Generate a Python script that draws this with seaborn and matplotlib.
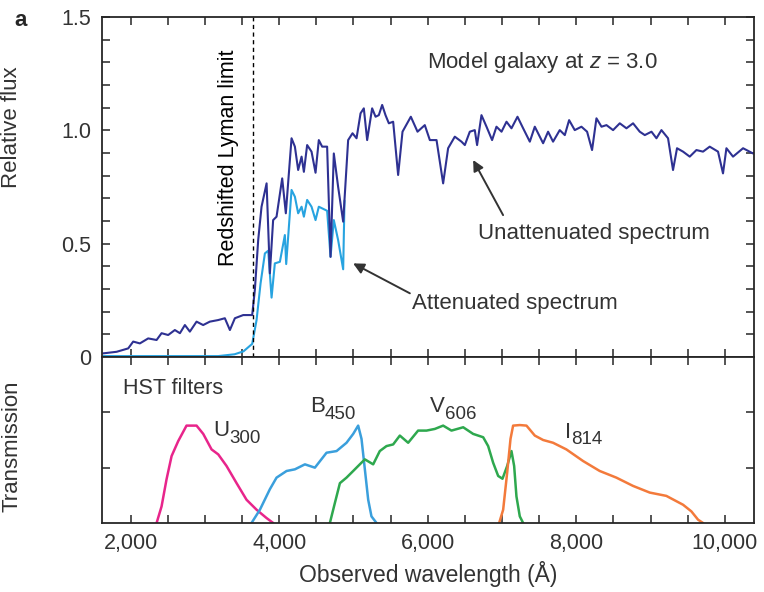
import numpy as np
import pandas as pd
import matplotlib
matplotlib.use("Agg")
import matplotlib.pyplot as plt
from matplotlib.ticker import MultipleLocator, FuncFormatter
import seaborn as sns

# ----- data -----
# unattenuated model spectrum (observed wavelength in Angstrom, relative flux)
wave_full = [1631, 1812, 1968, 2035, 2125, 2237, 2350, 2417, 2506, 2596, 2664, 2731, 2798,
             2888, 2977, 3067, 3179, 3269, 3337, 3404, 3516, 3637, 3673, 3718, 3763, 3831,
             3875, 3919, 3965, 4041, 4090, 4167, 4212, 4256, 4302, 4333, 4377, 4436, 4490,
             4534, 4579, 4646, 4692, 4736, 4794, 4862, 4929, 4988, 5042, 5096, 5140, 5185,
             5252, 5298, 5342, 5387, 5432, 5477, 5535, 5602, 5661, 5773, 5863, 5961, 6029,
             6119, 6208, 6275, 6365, 6455, 6500, 6567, 6634, 6665, 6724, 6792, 6867, 6926,
             6994, 7061, 7128, 7209, 7285, 7375, 7442, 7554, 7621, 7688, 7778, 7846, 7904,
             7980, 8070, 8146, 8213, 8272, 8340, 8407, 8496, 8586, 8676, 8765, 8855, 8923,
             9013, 9080, 9147, 9236, 9303, 9357, 9438, 9528, 9618, 9707, 9797, 9909, 9976,
             10022, 10111, 10246, 10380, 10400]
flux_full = [0.016, 0.023, 0.038, 0.068, 0.060, 0.082, 0.075, 0.105, 0.097, 0.119, 0.105, 0.141,
             0.112, 0.156, 0.141, 0.156, 0.163, 0.171, 0.119, 0.171, 0.185, 0.185, 0.296, 0.516,
             0.663, 0.766, 0.369, 0.604, 0.619, 0.788, 0.634, 0.965, 0.928, 0.825, 0.884, 0.817,
             0.935, 0.906, 0.813, 0.957, 0.928, 0.928, 0.442, 0.898, 0.751, 0.597, 0.957, 0.987,
             0.965, 1.075, 1.097, 0.957, 1.097, 1.060, 1.067, 1.112, 1.067, 1.031, 1.038, 0.803,
             0.994, 1.060, 0.994, 1.023, 0.957, 0.957, 0.766, 0.921, 0.972, 0.950, 0.935, 0.994,
             1.001, 0.935, 1.067, 1.016, 0.957, 1.016, 0.994, 1.038, 1.009, 1.060, 1.009, 0.950,
             1.016, 0.943, 0.994, 0.950, 1.001, 0.979, 1.045, 1.001, 1.016, 0.994, 0.913, 1.053,
             1.016, 1.023, 1.001, 1.031, 1.009, 1.031, 0.994, 0.979, 0.994, 0.965, 1.001, 0.965,
             0.825, 0.921, 0.906, 0.884, 0.913, 0.906, 0.928, 0.906, 0.810, 0.921, 0.884, 0.921,
             0.898, 0.900]

# attenuated spectrum (only differs below Ly-alpha, 4864 A)
wave_att = [1631, 3180, 3400, 3520, 3637, 3696, 3750, 3808, 3853, 3898, 3942, 4010, 4077,
            4095, 4167, 4212, 4256, 4302, 4333, 4377, 4436, 4490, 4534, 4646, 4692, 4736,
            4794, 4862, 4880]
flux_att = [0.004, 0.004, 0.012, 0.025, 0.058, 0.163, 0.325, 0.457, 0.469, 0.262, 0.413, 0.420,
            0.538, 0.41, 0.737, 0.707, 0.634, 0.663, 0.619, 0.693, 0.663, 0.604, 0.663, 0.645,
            0.442, 0.604, 0.516, 0.387, 0.69]

# HST filter transmission curves (arbitrary units)
u_wave = [2350, 2417, 2484, 2552, 2641, 2753, 2888, 2978, 3090, 3180, 3292, 3427, 3561, 3696, 3830, 3920]
u_trans = [0.0, 0.30, 0.79, 1.21, 1.48, 1.76, 1.76, 1.61, 1.33, 1.24, 1.03, 0.72, 0.42, 0.24, 0.09, 0.0]

b_wave = [3628, 3741, 3875, 3965, 4100, 4212, 4347, 4481, 4638, 4773, 4907, 4997, 5064, 5109, 5154, 5199, 5243, 5311]
b_trans = [0.0, 0.24, 0.61, 0.82, 0.94, 0.97, 1.06, 1.00, 1.27, 1.30, 1.45, 1.61, 1.76, 1.52, 0.97, 0.42, 0.12, 0.0]

v_wave = [4683, 4750, 4818, 4907, 4997, 5086, 5154, 5266, 5355, 5445, 5535, 5625, 5737, 5871, 5984,
          6096, 6208, 6320, 6478, 6612, 6747, 6814, 6881, 6949, 7007, 7070, 7128, 7164, 7195, 7240, 7285]
v_trans = [0.0, 0.36, 0.72, 0.82, 0.94, 1.06, 1.15, 1.06, 1.30, 1.39, 1.42, 1.58, 1.45, 1.67, 1.67,
           1.70, 1.76, 1.67, 1.73, 1.61, 1.55, 1.39, 1.09, 0.85, 0.80, 1.03, 1.30, 1.03, 0.48, 0.12, 0.0]

i_wave = [6962, 7016, 7070, 7115, 7150, 7240, 7330, 7442, 7554, 7688, 7867, 8092, 8316, 8540,
          8765, 8989, 9213, 9438, 9550, 9640, 9707]
i_trans = [0.0, 0.24, 0.91, 1.52, 1.76, 1.77, 1.76, 1.58, 1.50, 1.45, 1.33, 1.12, 0.94, 0.82,
           0.67, 0.55, 0.49, 0.33, 0.21, 0.06, 0.0]

filter_names = ["U", "B", "V", "I"]
filter_subs = ["300", "450", "606", "814"]
filter_colors = ["#e8258b", "#3a9fdc", "#2ea84e", "#f37a3b"]

lyman_limit = 912 * (1 + 3.0)

# ----- style -----
sns.set_style("ticks")
plt.rcParams["font.family"] = ["Liberation Sans", "DejaVu Sans"]
plt.rcParams["mathtext.fontset"] = "custom"
plt.rcParams["mathtext.rm"] = "Liberation Sans"
plt.rcParams["mathtext.it"] = "Liberation Sans:italic"
plt.rcParams["axes.linewidth"] = 1.3
plt.rcParams["lines.solid_joinstyle"] = "round"
txt = "#333333"

fig = plt.figure(figsize=(7.64, 5.92), dpi=100)
left, right = 102 / 764, 754.5 / 764
ax1 = fig.add_axes([left, 1 - 357 / 592, right - left, (357 - 17) / 592])
ax2 = fig.add_axes([left, 1 - 523 / 592, right - left, (523 - 357) / 592], sharex=ax1)

# ----- top panel: spectra -----
df_full = pd.DataFrame({"wave": wave_full, "flux": flux_full})
df_att = pd.DataFrame({"wave": wave_att, "flux": flux_att})
sns.lineplot(data=df_att, x="wave", y="flux", ax=ax1, color="#27a3e0", lw=1.5, estimator=None)
sns.lineplot(data=df_full, x="wave", y="flux", ax=ax1, color="#2e3192", lw=1.5, estimator=None)
ax1.axvline(lyman_limit, color="black", ls=(0, (3, 2.5)), lw=1.0)

ax1.set_xlim(1615, 10400)
ax1.set_ylim(0, 1.5)
ax1.set_yticks([0, 0.5, 1.0, 1.5])
ax1.set_yticklabels(["0", "0.5", "1.0", "1.5"])
ax1.yaxis.set_minor_locator(MultipleLocator(0.1))
ax1.xaxis.set_major_locator(MultipleLocator(2000))
ax1.xaxis.set_minor_locator(MultipleLocator(500))
ax1.tick_params(which="both", direction="in", top=True, right=True, labelbottom=False,
                length=5.5, width=1.1, labelsize=15.5, labelcolor=txt, pad=8)
ax1.set_xlabel("")
ax1.set_ylabel("Relative flux", fontsize=16, color=txt)
ax1.yaxis.set_label_coords(-0.122, 0.676)

ax1.text(3323, 0.878, "Redshifted Lyman limit", rotation=90, ha="center", va="center",
         fontsize=15.5, color="black")
ax1.text(5988, 1.30, "Model galaxy at $z$ = 3.0", ha="left", va="center", fontsize=16, color=txt)
ax1.text(6677, 0.547, "Unattenuated spectrum", ha="left", va="center", fontsize=16, color=txt)
ax1.text(5788, 0.238, "Attenuated spectrum", ha="left", va="center", fontsize=16, color=txt)
arrow = dict(arrowstyle="-|>", color="#333333", lw=1.4, mutation_scale=16, shrinkA=0, shrinkB=0)
ax1.annotate("", xy=(6612, 0.869), xytext=(7015, 0.626), arrowprops=arrow)
ax1.annotate("", xy=(4996, 0.413), xytext=(5760, 0.281), arrowprops=arrow)

# ----- bottom panel: filters -----
curves = [(u_wave, u_trans), (b_wave, b_trans), (v_wave, v_trans), (i_wave, i_trans)]
for (w, t), c in zip(curves, filter_colors):
    sns.lineplot(x=w, y=t, ax=ax2, color=c, lw=1.8, estimator=None)

ax2.set_ylim(0, 3)
ax2.set_yticks([1, 2])
ax2.set_yticklabels([])
ax2.xaxis.set_major_formatter(FuncFormatter(lambda v, p: f"{v:,.0f}"))
ax2.tick_params(which="both", direction="in", top=True, right=True,
                length=5.5, width=1.1, labelsize=15.5, labelcolor=txt, pad=7)
ax2.set_ylabel("Transmission", fontsize=16, color=txt)
ax2.yaxis.set_label_coords(-0.122, 0.46)
ax2.set_xlabel("Observed wavelength (Å)", fontsize=16.5, color=txt, labelpad=5)

ax2.text(1900, 2.33, "HST filters", ha="left", va="baseline", fontsize=15.5, color=txt)
label_pos = [(3110, 1.57), (4412, 2.0), (6029, 2.0), (7845, 1.545)]
letter_w = [11.6, 10.7, 10.7, 4.6]
for name, sub, (lx, ly), lw_ in zip(filter_names, filter_subs, label_pos, letter_w):
    ax2.text(lx, ly, name, ha="left", va="baseline", fontsize=16, color=txt)
    ax2.annotate(sub, xy=(lx, ly), xytext=(lw_, -5), textcoords="offset points",
                 ha="left", va="baseline", fontsize=13.5, color=txt)

fig.text(14 / 764, 1 - 20 / 592, "a", fontsize=16, fontweight="bold", ha="left", va="center")

fig.savefig("out.png", dpi=100)
